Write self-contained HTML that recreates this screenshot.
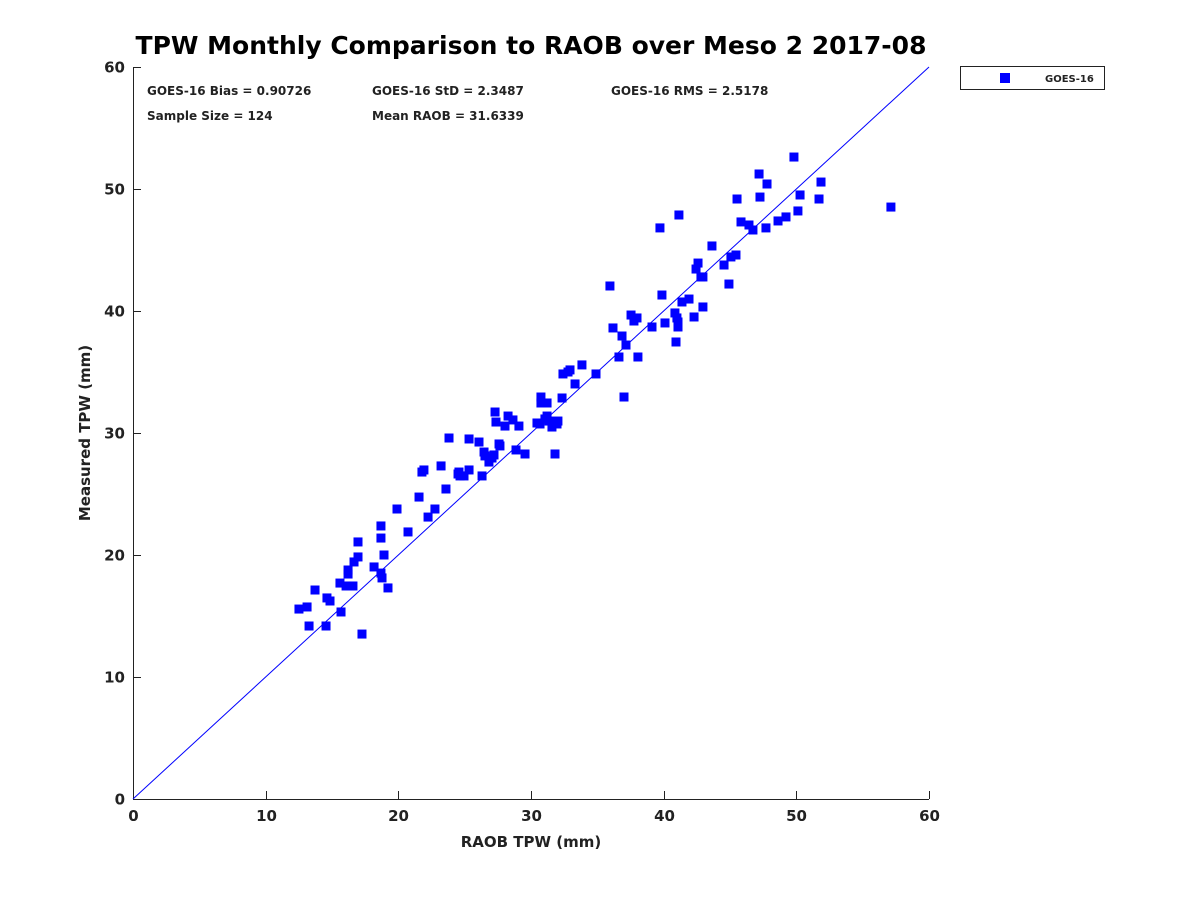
<!DOCTYPE html>
<html><head><meta charset="utf-8"><style>
body{margin:0;background:#fff;}
svg text{font-family:"DejaVu Sans","Liberation Sans",sans-serif;font-weight:bold;fill:#222;}
</style></head><body>
<svg id="chart" width="1200" height="900" xmlns="http://www.w3.org/2000/svg">
<rect width="1200" height="900" fill="#fff"/>
<text x="531" y="54" text-anchor="middle" font-size="25" style="fill:#000">TPW Monthly Comparison to RAOB over Meso 2 2017-08</text>
<g id="stats" font-size="12">
<text x="147" y="95">GOES-16 Bias = 0.90726</text>
<text x="372" y="95">GOES-16 StD = 2.3487</text>
<text x="611" y="95">GOES-16 RMS = 2.5178</text>
<text x="147" y="120">Sample Size = 124</text>
<text x="372" y="120">Mean RAOB = 31.6339</text>
</g>
<g id="axes"></g>
<g id="marks"></g>
<g>
<rect x="960.5" y="66.5" width="144" height="23" fill="#fff" stroke="#222" stroke-width="1"/>
<rect x="1000" y="73" width="10" height="10" fill="#0000ff"/>
<text x="1045" y="82" font-size="10">GOES-16</text>
</g>
<text x="531" y="847" text-anchor="middle" font-size="15">RAOB TPW (mm)</text>
<text transform="translate(90,433) rotate(-90)" text-anchor="middle" font-size="15">Measured TPW (mm)</text>
</svg>
<script>
const xTicks=[0,10,20,30,40,50,60];
const yTicks=[0,10,20,30,40,50,60];
const raob=[12.51,13.12,13.27,13.72,14.55,14.62,14.85,15.68,15.60,16.06,16.21,16.21,16.36,16.66,16.58,16.96,16.96,17.26,18.17,18.69,18.69,18.69,18.77,18.92,19.22,19.90,20.73,21.56,21.78,21.93,22.24,22.76,23.22,23.59,23.82,24.50,24.57,24.65,24.95,25.33,25.33,26.08,26.31,26.46,26.53,26.83,27.06,27.21,27.29,27.36,27.59,27.66,28.04,28.27,28.64,28.87,29.09,29.55,30.45,30.68,30.75,30.75,31.05,31.21,31.21,31.36,31.58,31.81,31.96,32.03,32.34,32.41,32.79,32.94,33.32,33.84,34.90,35.95,36.18,36.63,36.86,37.01,37.16,37.54,37.76,37.99,38.06,39.12,39.72,39.87,40.10,40.85,40.93,41.00,41.08,41.08,41.15,41.38,41.91,42.29,42.44,42.59,42.81,42.96,42.96,43.64,44.55,44.92,45.07,45.45,45.53,45.83,46.43,46.73,47.19,47.26,47.71,47.79,48.62,49.22,49.82,50.12,50.28,51.71,51.86,57.13];
const measured=[15.57,15.74,14.18,17.13,14.18,16.48,16.23,15.33,17.70,17.46,18.44,18.77,17.46,19.43,17.46,21.07,19.84,13.52,19.02,22.38,21.39,18.52,18.12,20.00,17.30,23.77,21.89,24.75,26.80,26.97,23.11,23.77,27.30,25.41,29.59,26.64,26.80,26.48,26.48,29.51,26.97,29.26,26.48,28.44,28.12,27.62,27.95,28.20,31.72,30.90,29.10,28.94,30.57,31.39,31.07,28.61,30.57,28.28,30.82,30.74,32.95,32.46,31.15,32.46,31.39,30.98,30.49,28.28,30.74,30.98,32.87,34.84,35.00,35.17,34.02,35.58,34.84,42.05,38.61,36.23,37.95,32.95,37.21,39.67,39.18,39.43,36.23,38.69,46.81,41.31,39.02,39.84,37.46,39.43,39.10,38.69,47.87,40.74,40.98,39.51,43.44,43.93,42.79,40.33,42.79,45.33,43.77,42.21,44.43,44.59,49.18,47.30,47.05,46.64,51.23,49.34,46.81,50.41,47.38,47.71,52.62,48.20,49.51,49.18,50.57,48.52];
const NS="http://www.w3.org/2000/svg";
const X0=133,X1=929,Y0=799,Y1=67;
function sx(v){return X0+(v-0)/(60-0)*(X1-X0);}
function sy(v){return Y0-(v-0)/(60-0)*(Y0-Y1);}
function mk(t,a,p){const e=document.createElementNS(NS,t);for(const k in a)e.setAttribute(k,a[k]);p.appendChild(e);return e;}
const axes=document.getElementById('axes'),marks=document.getElementById('marks');
const xl=mk('line',{x1:X0,y1:Y0+0.5,x2:X1,y2:Y0+0.5,stroke:'#222','stroke-width':1},axes);


const yl=mk('line',{x1:X0+0.5,y1:Y0,x2:X0+0.5,y2:Y1,stroke:'#222','stroke-width':1},axes);


xTicks.forEach(v=>{const x=Math.round(sx(v))+0.5;
 mk('line',{x1:x,y1:Y0,x2:x,y2:Y0-8,stroke:'#222'},axes);
 const t=mk('text',{x:x,y:Y0+22,'text-anchor':'middle','font-size':15},axes);t.textContent=v;
 
 });
yTicks.forEach(v=>{const y=Math.round(sy(v))+0.5;
 mk('line',{x1:X0,y1:y,x2:X0+8,y2:y,stroke:'#222'},axes);
 const t=mk('text',{x:X0-8,y:y+5,'text-anchor':'end','font-size':15},axes);t.textContent=v;
 
 });
const ref=mk('line',{x1:sx(0),y1:sy(0),x2:sx(60),y2:sy(60),stroke:'#0000ff','stroke-width':1},marks);


raob.forEach((v,i)=>{const r=mk('rect',{x:sx(v)-4.5,y:sy(measured[i])-4.5,width:9,height:9,fill:'#0000ff'},marks);
 
 });
</script>
</body></html>
